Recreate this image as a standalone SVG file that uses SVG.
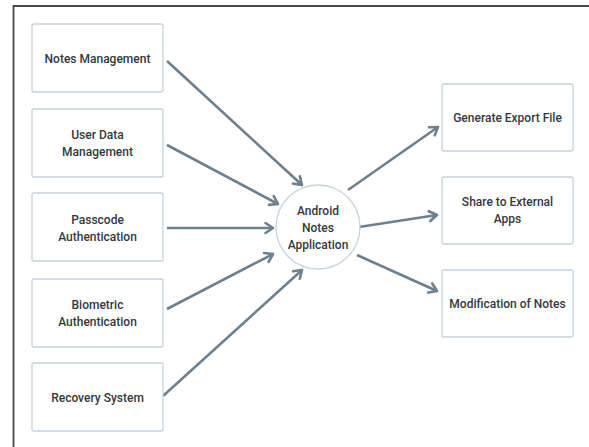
<svg xmlns="http://www.w3.org/2000/svg" width="589" height="447" viewBox="0 0 589 447">
<style>
.box{fill:#fff;stroke:#c8d2dc;stroke-width:1.3}
.t{font-family:Roboto,"Liberation Sans",sans-serif;font-size:12px;font-weight:500;fill:#34383c;text-anchor:middle}
.c{fill:none;stroke:#6e7f8d;stroke-width:2.6}
</style>
<defs>
<marker id="ah" markerUnits="userSpaceOnUse" markerWidth="14" markerHeight="14" viewBox="-2 -2 14 14" refX="8" refY="5" orient="auto">
<path d="M0.5,0 L8,5 L0.5,10" fill="none" stroke="#6e7f8d" stroke-width="2.6" stroke-linejoin="round" stroke-linecap="round"/>
</marker>
</defs>
<rect width="589" height="447" fill="#fff"/>
<path d="M589,6 H13.5 V447" fill="none" stroke="#4a4a4a" stroke-width="1.8"/>
<g id="connectors">
<line class="c" x1="167" y1="61" x2="302" y2="185" marker-end="url(#ah)"/>
<line class="c" x1="167" y1="145" x2="278" y2="204" marker-end="url(#ah)"/>
<line class="c" x1="167" y1="228" x2="273" y2="228" marker-end="url(#ah)"/>
<line class="c" x1="167" y1="309" x2="273" y2="254" marker-end="url(#ah)"/>
<line class="c" x1="163" y1="396" x2="302" y2="270" marker-end="url(#ah)"/>
<line class="c" x1="348" y1="190" x2="438" y2="127" marker-end="url(#ah)"/>
<line class="c" x1="359" y1="227" x2="437" y2="215" marker-end="url(#ah)"/>
<line class="c" x1="357" y1="255" x2="437" y2="291" marker-end="url(#ah)"/>
</g>
<g id="notes-management"><rect class="box" x="32" y="24" width="131" height="68" rx="2"/><text class="t" x="97.5" y="62.5">Notes Management</text></g>
<g id="user-data-management"><rect class="box" x="32" y="109" width="131" height="68" rx="2"/><text class="t" x="97.5" y="139">User Data</text><text class="t" x="97.5" y="156">Management</text></g>
<g id="passcode-authentication"><rect class="box" x="32" y="193" width="131" height="68" rx="2"/><text class="t" x="97.5" y="224">Passcode</text><text class="t" x="97.5" y="241">Authentication</text></g>
<g id="biometric-authentication"><rect class="box" x="32" y="279" width="131" height="68" rx="2"/><text class="t" x="97.5" y="309">Biometric</text><text class="t" x="97.5" y="326">Authentication</text></g>
<g id="recovery-system"><rect class="box" x="32" y="363" width="131" height="68" rx="2"/><text class="t" x="97.5" y="401.5">Recovery System</text></g>
<g id="android-notes-application"><circle cx="318" cy="227" r="42" fill="#fff" stroke="#c8d2dc" stroke-width="1.3"/><text class="t" x="318" y="215">Android</text><text class="t" x="318" y="232">Notes</text><text class="t" x="318" y="249">Application</text></g>
<g id="generate-export-file"><rect class="box" x="442" y="84" width="131" height="67" rx="2"/><text class="t" x="507.5" y="122">Generate Export File</text></g>
<g id="share-to-external-apps"><rect class="box" x="442" y="177" width="131" height="67" rx="2"/><text class="t" x="507.5" y="206">Share to External</text><text class="t" x="507.5" y="223">Apps</text></g>
<g id="modification-of-notes"><rect class="box" x="442" y="270" width="131" height="67" rx="2"/><text class="t" x="507.5" y="308">Modification of Notes</text></g>
</svg>
